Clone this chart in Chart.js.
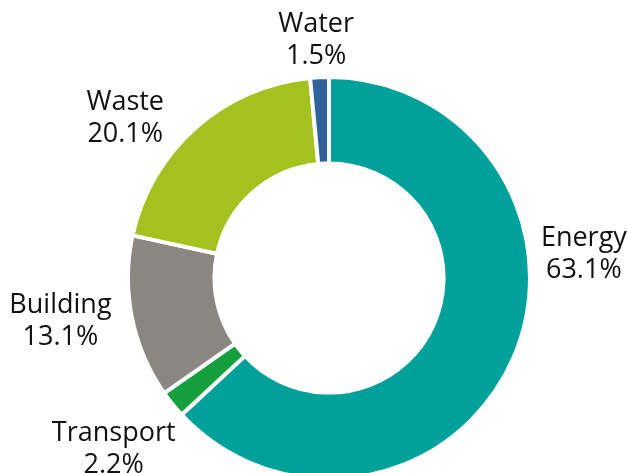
<!DOCTYPE html>
<html>
<head>
<meta charset="utf-8">
<script src="https://cdn.jsdelivr.net/npm/chart.js@4/dist/chart.umd.min.js"></script>
<style>
    html, body { margin: 0; padding: 0; background: #fff; overflow: hidden; }
    #wrap { width: 628px; height: 473px; overflow: hidden; }
</style>
</head>
<body>
<div id="wrap">
    <canvas id="emissionChart" width="628" height="482"></canvas>
</div>
<script>
const categories = ['Energy', 'Transport', 'Building', 'Waste', 'Water']
const shares = [63.1, 2.2, 13.1, 20.1, 1.5]
const colors = ['#00a19a', '#14a03d', '#8a8682', '#a3c21f', '#30629b']

// nudges for the outside labels: angle shift (deg) and distance from centre
const labelPlacement = {
    Energy: { da: -29, dist: 256 },
    Transport: { da: 0.4, dist: 275 },
    Building: { da: 2.2, dist: 272 },
    Waste: { da: -10.3, dist: 259 },
    Water: { da: -0.4, dist: 238 }
}

const outsideLabels = {
    id: 'outsideLabels',
    afterDraw(chart) {
        const ctx = chart.ctx
        const meta = chart.getDatasetMeta(0)
        ctx.save()
        ctx.font = '27px "Open Sans"'
        ctx.fillStyle = '#111111'
        ctx.textAlign = 'center'
        ctx.textBaseline = 'middle'
        meta.data.forEach((arc, i) => {
            const name = chart.data.labels[i]
            const place = labelPlacement[name] || { da: 0, dist: arc.outerRadius + 40 }
            const mid = (arc.startAngle + arc.endAngle) / 2 + place.da * Math.PI / 180
            const x = arc.x + Math.cos(mid) * place.dist
            const y = arc.y + Math.sin(mid) * place.dist
            const value = chart.data.datasets[0].data[i]
            ctx.fillText(name, x, y - 16)
            ctx.fillText(value.toFixed(1) + '%', x, y + 16)
        })
        ctx.restore()
    }
}

const chartEl = document.getElementById('emissionChart')

new Chart(chartEl, {
    type: 'doughnut',
    data: {
        labels: categories,
        datasets: [
            {
                data: shares,
                backgroundColor: colors,
                borderColor: '#ffffff',
                borderWidth: 4
            }
        ]
    },
    options: {
        responsive: false,
        animation: false,
        cutout: '57%',
        layout: {
            padding: { left: 126, right: 96, top: 74, bottom: 0 }
        },
        plugins: {
            legend: { display: false },
            tooltip: { enabled: false }
        }
    },
    plugins: [outsideLabels]
})
</script>
</body>
</html>
